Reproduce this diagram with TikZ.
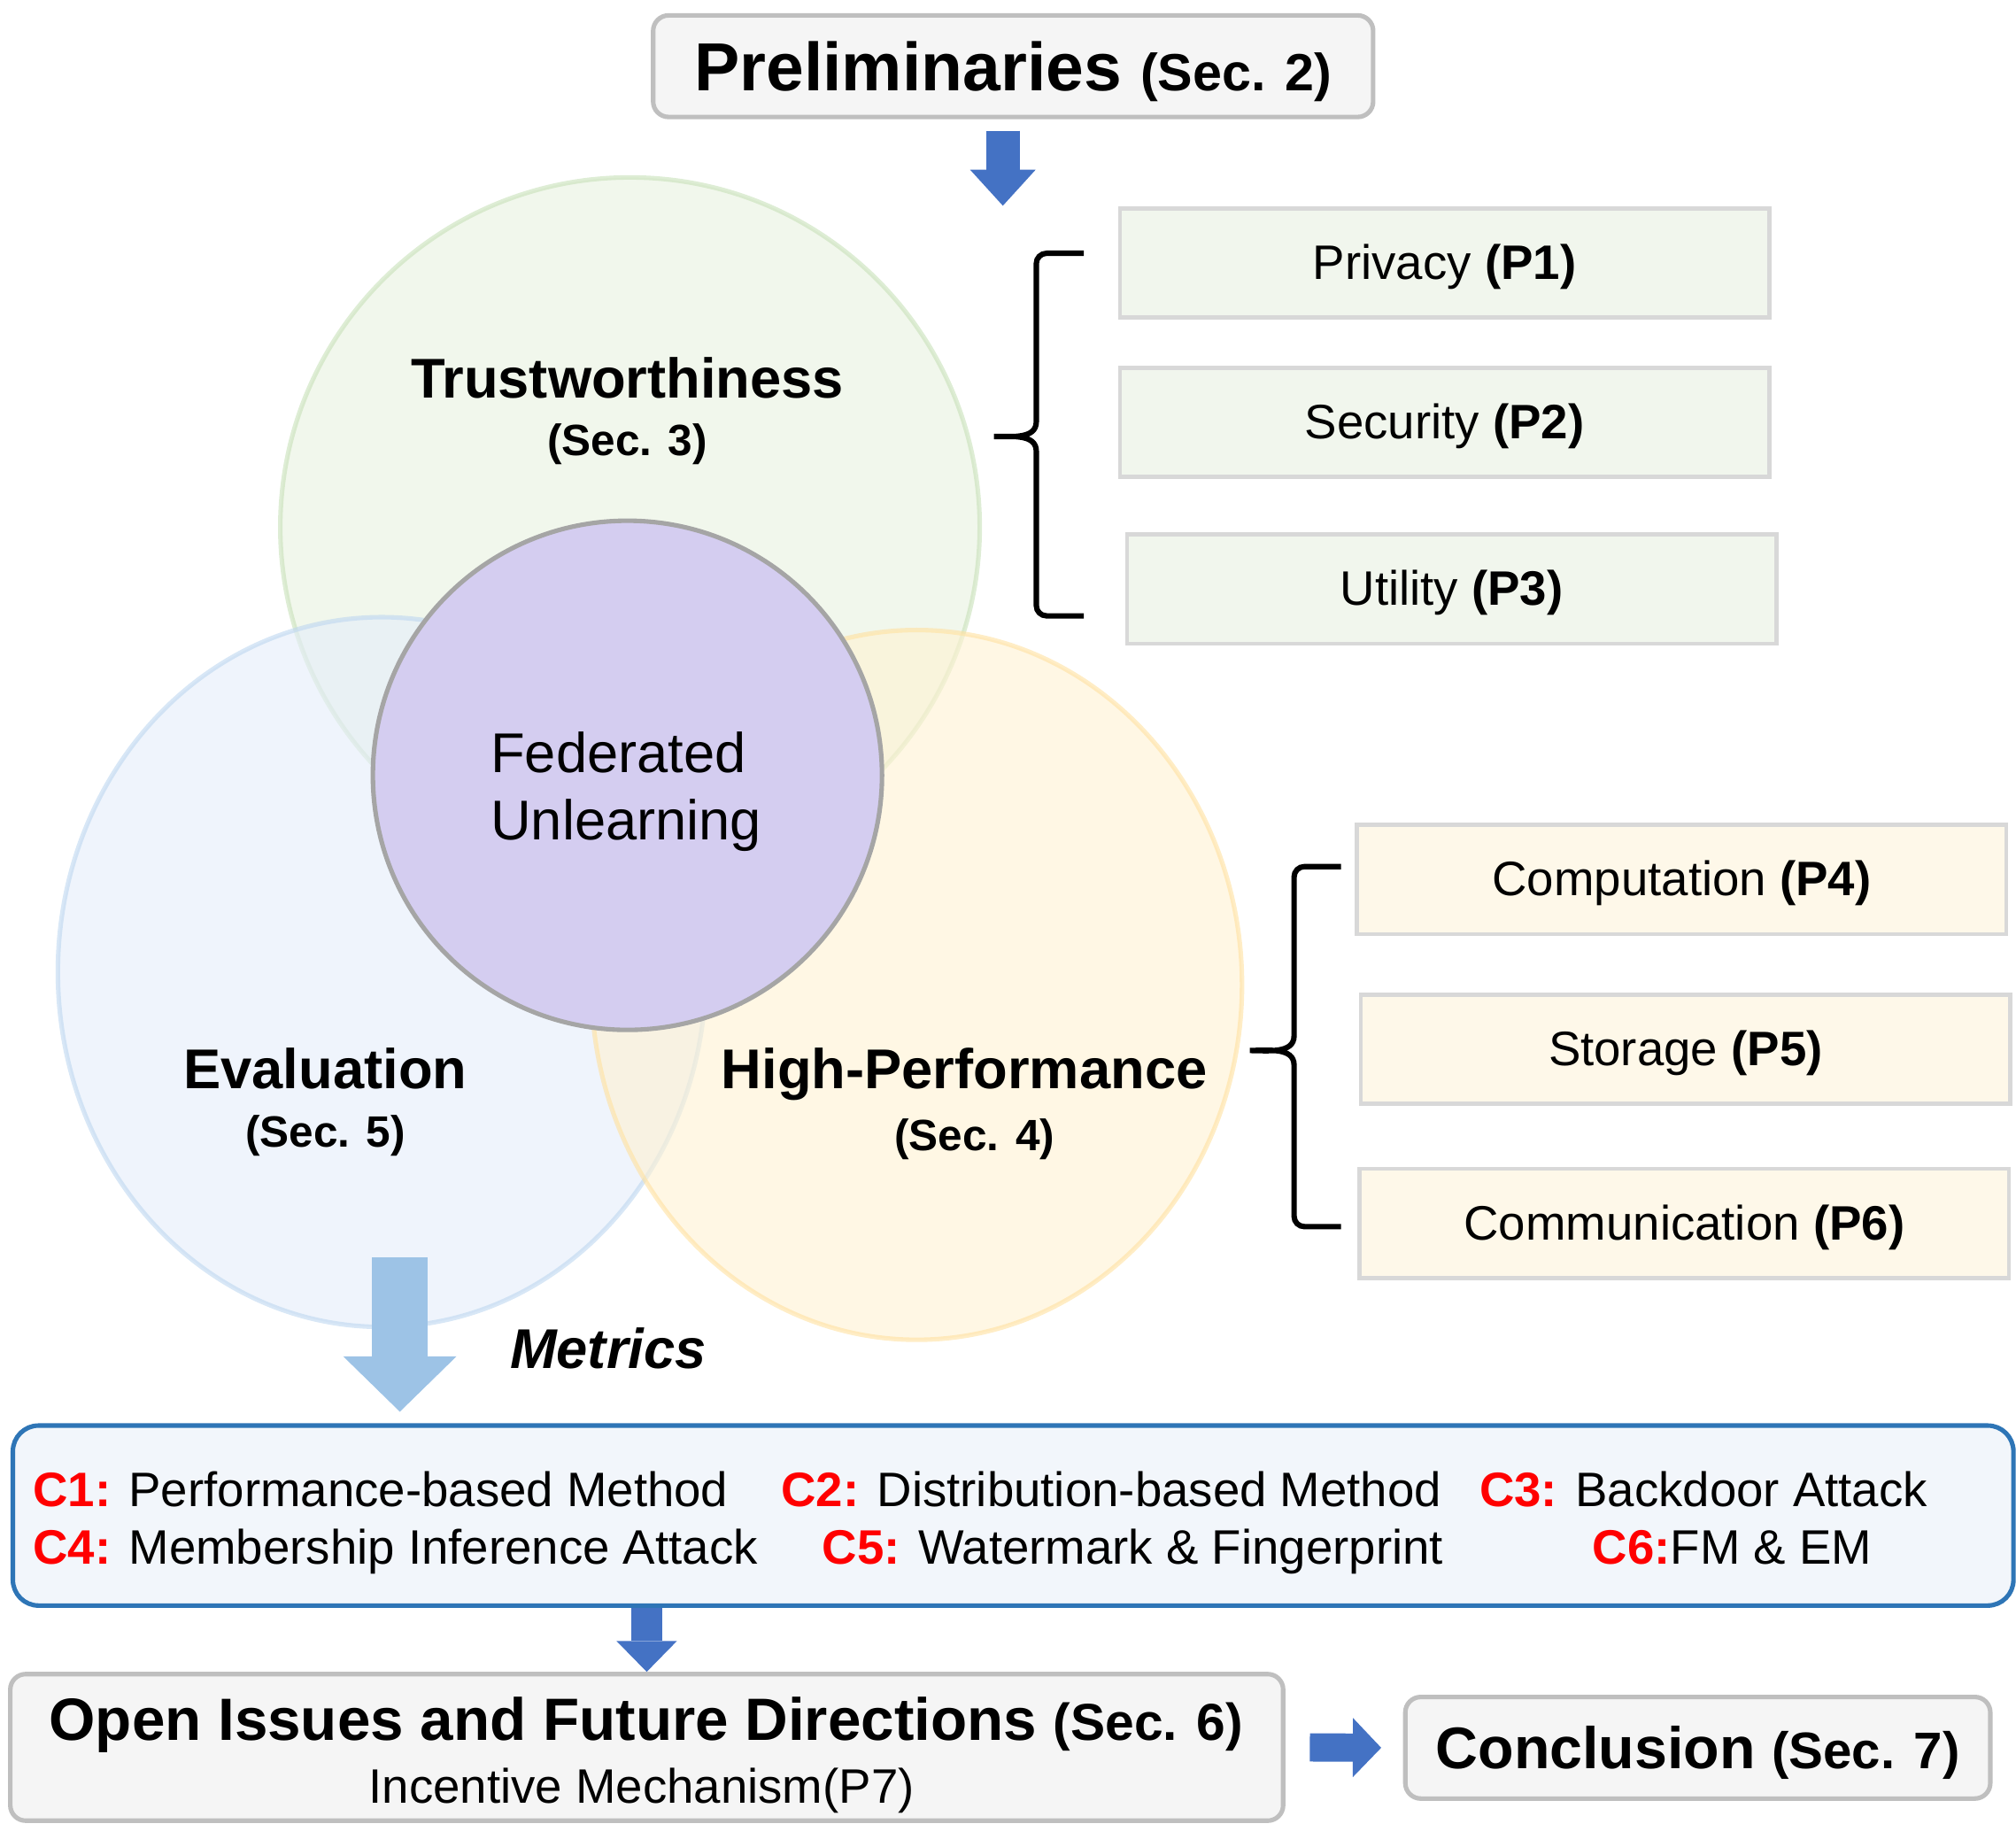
\documentclass[tikz,border=0pt]{standalone}
\usepackage{fontspec}
\setmainfont{Liberation Sans}
\usepackage{tikz}
\usetikzlibrary{arrows.meta, positioning, shapes.geometric}

\definecolor{secgray}{RGB}{245,245,245}
\definecolor{secline}{RGB}{191,191,191}
\definecolor{boxline}{RGB}{216,216,216}
\definecolor{trustfill}{RGB}{232,242,223}
\definecolor{trustline}{RGB}{200,225,185}
\definecolor{evalfill}{RGB}{228,237,250}
\definecolor{evalline}{RGB}{190,215,240}
\definecolor{perffill}{RGB}{255,242,210}
\definecolor{perfline}{RGB}{255,225,160}
\definecolor{fufill}{RGB}{212,205,240}
\definecolor{fuline}{RGB}{165,165,165}
\definecolor{pgreen}{RGB}{241,246,237}
\definecolor{pyellow}{RGB}{254,248,233}
\definecolor{metricfill}{RGB}{242,246,251}
\definecolor{metricline}{RGB}{46,117,182}
\definecolor{arrowblue}{RGB}{68,114,196}
\definecolor{arrowlight}{RGB}{157,195,230}
\definecolor{cred}{RGB}{255,0,0}

\begin{document}
\begin{tikzpicture}[
        font=\fontsize{10.7pt}{13pt}\selectfont,
        secbox/.style={
            draw=secline,
            fill=secgray,
            line width=1pt,
            rounded corners=0.12cm,
            inner sep=0pt
        },
        pbox/.style={
            draw=boxline,
            fill=pgreen,
            line width=0.9pt,
            minimum width=5.05cm,
            minimum height=0.85cm,
            text height=0.72em,
            text depth=0pt
        },
        ybox/.style={pbox, fill=pyellow},
        venn/.style={fill opacity=0.6, draw opacity=0.6, line width=1pt},
        vname/.style={font=\fontsize{12.4pt}{15pt}\selectfont\bfseries, anchor=base},
        vsec/.style={font=\fontsize{9.7pt}{12pt}\selectfont\bfseries, anchor=base},
        citem/.style={anchor=base west, inner sep=0pt},
        bracket/.style={line width=1.2pt},
        blockarrow/.style n args={4}{draw=#1, line width=#2, -{Triangle[width=#3, length=#4, line width=0pt]}}
    ]

        \useasboundingbox (0,0) rectangle (15.68,-14.36);

        \node[secbox, minimum width=5.60cm, minimum height=0.79cm, text height=10.8pt, text depth=0pt] (prelim) at (7.88,-0.515)
            {{\fontsize{15.05pt}{18pt}\selectfont\bfseries Preliminaries }{\fontsize{11.6pt}{14pt}\selectfont\bfseries (Sec. 2)}};
        \coordinate (pretip) at (7.80,-1.60);
        \draw[blockarrow={arrowblue}{0.26cm}{0.51cm}{0.28cm}] ([yshift=-0.09cm]pretip |- prelim.south) -- (pretip);

        % venn part
        \node[venn, circle, fill=trustfill, draw=trustline, minimum size=5.44cm] (trust) at (4.90,-4.10) {};
        \node[venn, ellipse, fill=evalfill, draw=evalline, minimum width=5.04cm, minimum height=5.52cm] (eval) at (2.97,-7.56) {};
        \node[venn, ellipse, fill=perffill, draw=perfline, minimum width=5.06cm, minimum height=5.52cm] (perf) at (7.13,-7.66) {};
        \node[circle, fill=fufill, draw=fuline, line width=1pt, minimum size=3.96cm] (fu) at (4.88,-6.03) {};

        \node[vname] (trustname) at (4.88,-3.095) {Trustworthiness};
        \node[vsec] (trustsec) at (4.88,-3.54) {(Sec. 3)};
        \node[vname] (evalname) at (2.53,-8.465) {Evaluation};
        \node[vsec] (evalsec) at (2.53,-8.92) {(Sec. 5)};
        \node[vname] (perfname) at (7.50,-8.465) {High-Performance};
        \node[vsec] (perfsec) at (7.58,-8.95) {(Sec. 4)};
        \node[align=left, font=\fontsize{12.4pt}{14.9pt}\selectfont] (funame) at (4.87,-6.16) {Federated\\Unlearning};
        \node[vname, font=\fontsize{12.4pt}{15pt}\selectfont\bfseries\itshape] (metrics) at (4.73,-10.645) {Metrics};

        % properties
        \node[pbox] (priv) at (11.235,-2.045) {Privacy \textbf{(P1)}};
        \node[pbox] (secu) at (11.235,-3.285) {Security \textbf{(P2)}};
        \node[pbox] (util) at (11.29,-4.58) {Utility \textbf{(P3)}};
        \node[ybox] (comp) at (13.08,-6.84) {Computation \textbf{(P4)}};
        \node[ybox] (stor) at (13.11,-8.16) {Storage \textbf{(P5)}};
        \node[ybox] (comm) at (13.10,-9.515) {Communication \textbf{(P6)}};

        \draw[bracket] (8.43,-1.97) -- (8.14,-1.97) to[out=180,in=90] (8.06,-2.05) -- (8.06,-3.28)
            to[out=-90,in=0] (7.73,-3.395) to[out=0,in=90] (8.06,-3.51) -- (8.06,-4.71)
            to[out=-90,in=180] (8.14,-4.79) -- (8.43,-4.79);
        \draw[bracket] (10.43,-6.74) -- (10.145,-6.74) to[out=180,in=90] (10.065,-6.82) -- (10.065,-8.055)
            to[out=-90,in=0] (9.72,-8.17) to[out=0,in=90] (10.065,-8.285) -- (10.065,-9.46)
            to[out=-90,in=180] (10.145,-9.54) -- (10.43,-9.54);

        % metrics
        \node[draw=metricline, fill=metricfill, line width=1pt, rounded corners=0.2cm,
            minimum width=15.56cm, minimum height=1.40cm] (cbox) at (7.88,-11.787) {};
        \node[citem] (c1) at (0.25,-11.715) {\textcolor{cred}{\textbf{C1:}} Performance-based Method};
        \node[citem] (c2) at (6.07,-11.715) {\textcolor{cred}{\textbf{C2:}} Distribution-based Method};
        \node[citem] (c3) at (11.50,-11.715) {\textcolor{cred}{\textbf{C3:}} Backdoor Attack};
        \node[citem] (c4) at (0.25,-12.165) {\textcolor{cred}{\textbf{C4:}} Membership Inference Attack};
        \node[citem] (c5) at (6.39,-12.165) {\textcolor{cred}{\textbf{C5:}} Watermark \& Fingerprint};
        \node[citem] (c6) at (12.38,-12.165) {\textcolor{cred}{\textbf{C6:}}FM \& EM};

        \coordinate (mtop) at (3.11,-9.78);
        \draw[blockarrow={arrowlight}{0.43cm}{0.88cm}{0.43cm}] (mtop) -- ([yshift=0.09cm]mtop |- cbox.north);

        % bottom row
        \node[secbox, minimum width=9.90cm, minimum height=1.14cm] (open) at (5.03,-13.59) {};
        \node[anchor=base] (opentitle) at (5.025,-13.535)
            {{\fontsize{13.2pt}{16pt}\selectfont\bfseries Open Issues and Future Directions }{\fontsize{11.5pt}{14pt}\selectfont\bfseries (Sec. 6)}};
        \node[anchor=base] (opensub) at (4.99,-14.025) {Incentive Mechanism(P7)};
        \node[secbox, minimum width=4.55cm, minimum height=0.79cm, text height=9.3pt, text depth=0pt] (concl) at (13.205,-13.593)
            {{\fontsize{13pt}{16pt}\selectfont\bfseries Conclusion }{\fontsize{11.4pt}{14pt}\selectfont\bfseries (Sec. 7)}};

        \draw[blockarrow={arrowblue}{0.24cm}{0.47cm}{0.24cm}] (cbox.south -| open.north) -- (open.north);
        \draw[blockarrow={arrowblue}{0.22cm}{0.46cm}{0.22cm}] ([xshift=0.19cm]open.east) -- ([xshift=-0.17cm]concl.west);

    \end{tikzpicture}
\end{document}
